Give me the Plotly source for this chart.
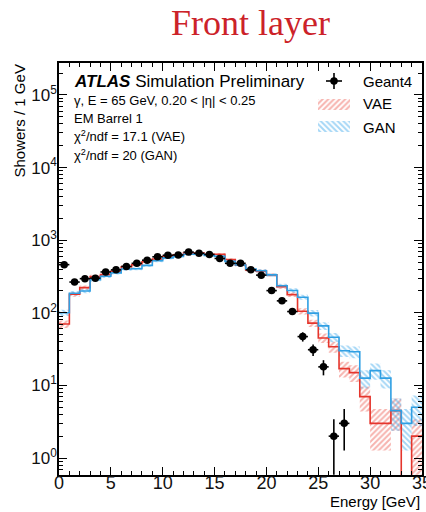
import numpy as np
import plotly.graph_objects as go

# ---------------- data ----------------
bin_edges = list(range(0, 36))  # 1 GeV bins, 0..35 GeV

geant4 = [460, 265, 295, 300, 365, 390, 435, 480, 530, 590,
          620, 625, 685, 660, 635, 560, 480, 480, 390, 330,
          202, 146, 104, 47, 31, 18, 2, 3, 0, 0,
          0, 0, 0, 0, 0]

vae = [70, 180, 222, 315, 335, 372, 430, 458, 505, 550,
       600, 625, 664, 664, 640, 640, 540, 455, 390, 375,
       333, 228, 178, 105, 72, 45, 34, 17, 15, 7,
       3, 3, 4.5, 0, 2]

gan = [100, 186, 200, 285, 318, 355, 400, 405, 450, 520,
       570, 595, 640, 645, 615, 600, 510, 455, 400, 380,
       333, 236, 203, 164, 99, 66, 46, 30, 29, 12.6,
       16, 12.6, 4.5, 3, 5]

x_tick_vals = [0, 5, 10, 15, 20, 25, 30, 35]
y_tick_vals = [1, 10, 100, 1000, 1e4, 1e5]
y_tick_text = ["10<sup>0</sup>", "10<sup>1</sup>", "10<sup>2</sup>",
               "10<sup>3</sup>", "10<sup>4</sup>", "10<sup>5</sup>"]

title_text = "Front layer"
atlas_text = "<b><i>ATLAS</i></b> Simulation Preliminary"
info_lines = ["γ, E = 65 GeV, 0.20 < |η| < 0.25",
              "EM Barrel 1",
              "χ<sup>2</sup>/ndf = 17.1 (VAE)",
              "χ<sup>2</sup>/ndf = 20 (GAN)"]
legend_names = ["Geant4", "VAE", "GAN"]
x_title = "Energy [GeV]"
y_title = "Showers / 1 GeV"

# ---------------- styling ----------------
W, H = 426, 512
ML, MR, MT, MB = 59, 4, 63, 37
FONT = "Liberation Sans, Arial, Helvetica, sans-serif"
RED_LINE = "#e5352c"
RED_HATCH = "rgba(236,85,75,0.9)"
BLUE_LINE = "#2f9fe3"
BLUE_HATCH = "rgba(55,165,235,0.9)"
FLOOR = 1e-3


def px_x(px):
    return (px - ML) / (W - ML - MR)


def px_y(py):
    return (H - MB - py) / (H - MT - MB)


def step_trace(vals, color, name):
    y = [v if v > 0 else FLOOR for v in vals]
    y = y + [y[-1]]
    return go.Scatter(x=bin_edges, y=y, mode="lines", line=dict(color=color, width=1.6, shape="hv"),
                      name=name, showlegend=False, hoverinfo="skip")


def pattern(color, shape):
    return dict(shape=shape, fgcolor=color, bgcolor="rgba(255,255,255,0)", size=4, solidity=0.5)


def band_trace(vals, color, shape, name):
    xs, ys = [], []
    for i, v in enumerate(vals):
        if v <= 0:
            continue
        e = np.sqrt(v)
        lo = max(v - e, FLOOR)
        hi = v + e
        x0, x1 = bin_edges[i], bin_edges[i + 1]
        xs += [x0, x1, x1, x0, x0, None]
        ys += [lo, lo, hi, hi, lo, None]
    return go.Scatter(x=xs, y=ys, mode="lines", fill="toself", line=dict(width=0, color="rgba(0,0,0,0)"),
                      fillcolor="rgba(255,255,255,0)", fillpattern=pattern(color, shape),
                      name=name, showlegend=False, hoverinfo="skip")


fig = go.Figure()
fig.add_trace(band_trace(vae, RED_HATCH, "/", "VAE band"))
fig.add_trace(band_trace(gan, BLUE_HATCH, "\\", "GAN band"))
fig.add_trace(step_trace(vae, RED_LINE, "VAE"))
fig.add_trace(step_trace(gan, BLUE_LINE, "GAN"))

centers = [0.5 * (bin_edges[i] + bin_edges[i + 1]) for i in range(len(geant4))]
gx = [c for c, v in zip(centers, geant4) if v > 0]
gy = [v for v in geant4 if v > 0]
gerr = [float(np.sqrt(v)) for v in gy]
fig.add_trace(go.Scatter(
    x=gx, y=gy, mode="markers",
    marker=dict(color="black", size=7.5, symbol="circle"),
    error_y=dict(type="data", array=gerr, color="black", thickness=1.6, width=0),
    error_x=dict(type="constant", value=0.5, color="black", thickness=1.6, width=0),
    name="Geant4", showlegend=False, hoverinfo="skip"))

# ---------------- legend keys (overlay axes in plot-area fractions) ----------------
def key_box(x0, x1, y0, y1, color, shape):
    return go.Scatter(x=[x0, x1, x1, x0, x0], y=[y0, y0, y1, y1, y0], mode="lines", fill="toself",
                      line=dict(width=0, color="rgba(0,0,0,0)"), fillcolor="rgba(255,255,255,0)",
                      fillpattern=pattern(color, shape),
                      xaxis="x2", yaxis="y2", showlegend=False, hoverinfo="skip")

fig.add_trace(go.Scatter(x=[px_x(334)], y=[px_y(81)], mode="markers",
                         marker=dict(color="black", size=7.5),
                         error_x=dict(type="constant", value=px_x(342) - px_x(334), color="black",
                                      thickness=1.6, width=0),
                         error_y=dict(type="constant", value=px_y(73) - px_y(81), color="black",
                                      thickness=1.6, width=0),
                         xaxis="x2", yaxis="y2", showlegend=False, hoverinfo="skip"))
fig.add_trace(key_box(px_x(318), px_x(350), px_y(110), px_y(99), RED_HATCH, "/"))
fig.add_trace(key_box(px_x(318), px_x(350), px_y(132), px_y(121), BLUE_HATCH, "\\"))

ann = []
for name, py in zip(legend_names, [81, 104, 127]):
    ann.append(dict(x=px_x(361), y=px_y(py), xref="paper", yref="paper", text=name, showarrow=False,
                    xanchor="left", yanchor="middle", font=dict(family=FONT, size=15, color="black")))

ann.append(dict(x=px_x(72), y=px_y(81), xref="paper", yref="paper", text=atlas_text, showarrow=False,
                xanchor="left", yanchor="middle", font=dict(family=FONT, size=17, color="black")))
for txt, py in zip(info_lines, [101, 118, 136, 155]):
    ann.append(dict(x=px_x(72), y=px_y(py), xref="paper", yref="paper", text=txt, showarrow=False,
                    xanchor="left", yanchor="middle", font=dict(family=FONT, size=13, color="black")))

ann.append(dict(x=px_x(250), y=px_y(23), xref="paper", yref="paper", text=title_text, showarrow=False,
                xanchor="center", yanchor="middle",
                font=dict(family="Liberation Serif, Times New Roman, serif", size=36, color="#cc2229")))
ann.append(dict(x=1.0, y=px_y(501), xref="paper", yref="paper", text=x_title, showarrow=False,
                xanchor="right", yanchor="middle", font=dict(family=FONT, size=15, color="black")))
ann.append(dict(x=px_x(19), y=1.0, xref="paper", yref="paper", text=y_title, showarrow=False,
                textangle=-90, xanchor="center", yanchor="top",
                font=dict(family=FONT, size=15, color="black")))

minor_y = [m * 10.0 ** k for k in range(-1, 6) for m in range(2, 10)]

fig.update_layout(
    width=W, height=H, autosize=False,
    margin=dict(l=ML, r=MR, t=MT, b=MB, pad=0, autoexpand=False),
    paper_bgcolor="white", plot_bgcolor="white",
    showlegend=False,
    annotations=ann,
    xaxis=dict(range=[0, 35], tickvals=x_tick_vals, ticks="inside", ticklen=8, tickwidth=1.2,
               tickcolor="black", showline=True, linecolor="black", linewidth=1.5, mirror="allticks",
               showgrid=False, zeroline=False, automargin=False, ticklabeloverflow="allow",
               ticklabelstandoff=-9,
               minor=dict(ticks="inside", ticklen=4, tickwidth=1, dtick=1, tick0=0, tickcolor="black",
                          showgrid=False),
               tickfont=dict(family=FONT, size=18, color="#111")),
    yaxis=dict(type="log", range=[-0.234, 5.44], tickvals=y_tick_vals, ticktext=y_tick_text,
               ticks="inside", ticklen=8, tickwidth=1.2, tickcolor="black", showline=True,
               linecolor="black", linewidth=1.5, mirror="allticks", showgrid=False, zeroline=False,
               automargin=False, ticklabeloverflow="allow", ticklabelstandoff=-3,
               minor=dict(ticks="inside", ticklen=4, tickwidth=1, tickvals=minor_y, tickcolor="black",
                          showgrid=False),
               tickfont=dict(family=FONT, size=17, color="#111")),
    xaxis2=dict(overlaying="x", range=[0, 1], visible=False, automargin=False),
    yaxis2=dict(overlaying="y", range=[0, 1], visible=False, automargin=False),
)

fig.write_html("out.html", config={"displayModeBar": False},
               post_script="document.body.style.margin='0';document.body.style.overflow='hidden';")
